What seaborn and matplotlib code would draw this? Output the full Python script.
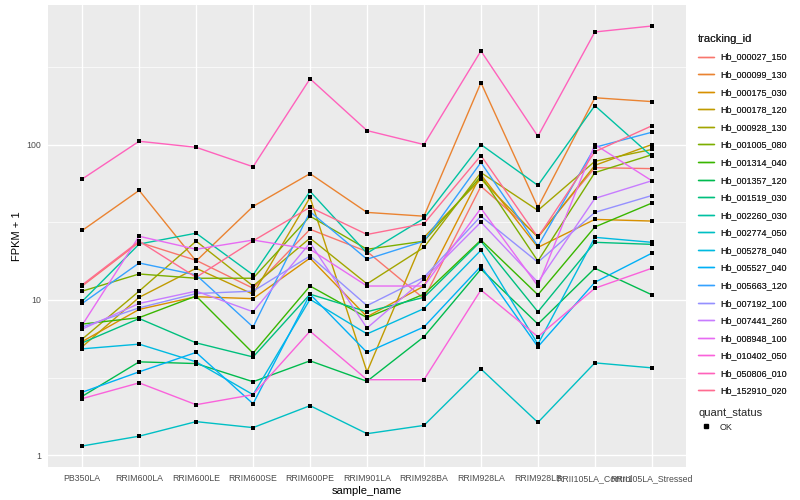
import numpy as np
import pandas as pd
import matplotlib
matplotlib.use("Agg")
import matplotlib.pyplot as plt
from matplotlib.lines import Line2D
from matplotlib.ticker import FixedLocator, NullFormatter
import seaborn as sns

# sample order along the x axis
samples = ["PB350LA", "RRIM600LA", "RRIM600LE", "RRIM600SE", "RRIM600PE",
           "RRIM901LA", "RRIM928BA", "RRIM928LA", "RRIM928LB",
           "RRII105LA_Control", "RRII105LA_Stressed"]

tracking_ids = ["Hb_000027_150", "Hb_000099_130", "Hb_000175_030", "Hb_000178_120",
                "Hb_000928_130", "Hb_001005_080", "Hb_001314_040", "Hb_001357_120",
                "Hb_001519_030", "Hb_002260_030", "Hb_002774_050", "Hb_005278_040",
                "Hb_005527_040", "Hb_005663_120", "Hb_007192_100", "Hb_007441_260",
                "Hb_008948_100", "Hb_010402_050", "Hb_050806_010", "Hb_152910_020"]

# FPKM + 1, one row per tracking_id, one column per sample
fpkm = [
    [12.3, 23.5, 18.0, 11.9, 28.5, 20.5, 10.2, 53.9, 25.7, 71, 70],
    [28, 50.7, 17.8, 40, 65, 36.6, 34.6, 250, 39.5, 200, 189],
    [5.4, 8.7, 10.5, 10.2, 18.6, 7.8, 12.3, 64, 21.8, 33, 32.2],
    [5.0, 10.4, 16.0, 10.9, 45.7, 3.45, 25.3, 60, 25.3, 73.5, 100],
    [5.6, 11.4, 23.9, 12.3, 25, 12.7, 21.8, 66, 37.7, 78, 93],
    [11.4, 14.7, 13.8, 13.8, 34.6, 21.2, 23.9, 62.5, 17.8, 66, 86],
    [7.0, 7.7, 10.6, 4.55, 12.3, 7.7, 10.9, 24.3, 10.8, 29.5, 42],
    [2.4, 4.0, 3.9, 2.98, 4.06, 3.0, 5.8, 15.8, 7.0, 16, 10.8],
    [5.3, 7.6, 5.3, 4.3, 10.9, 8.4, 10.4, 23.9, 8.4, 23.5, 22.8],
    [9.8, 22.9, 26.9, 14.5, 50, 20, 33.5, 100, 54.6, 178, 84],
    [1.15, 1.33, 1.65, 1.51, 2.09, 1.38, 1.56, 3.6, 1.63, 3.94, 3.66],
    [4.85, 5.2, 4.0, 2.46, 10.1, 6.05, 8.8, 20.9, 5.2, 25.3, 23.5],
    [2.55, 3.45, 4.6, 2.15, 10.9, 4.6, 6.7, 16.5, 5.0, 13, 20],
    [9.5, 17.3, 14.5, 6.7, 37, 18.3, 23.9, 76.7, 22.2, 96, 120],
    [6.7, 8.9, 11.0, 11.4, 19.2, 9.2, 14, 34.6, 17.5, 36.6, 47],
    [6.5, 9.5, 11.4, 8.4, 23.3, 6.6, 13.6, 31.7, 13, 45, 58.5],
    [6.9, 25.7, 21.2, 24.3, 21.2, 12.3, 12.3, 38.9, 12.3, 100, 58.5],
    [2.32, 2.93, 2.12, 2.46, 6.3, 3.07, 3.07, 11.6, 5.8, 11.9, 16],
    [60, 105, 96, 72, 265, 123, 100, 400, 113, 530, 579],
    [12.5, 23.9, 14, 24, 39.5, 26.4, 31, 85, 25.3, 90, 132],
]

# ggplot2 default hue palette for 20 levels
colors = ["#F8766D", "#EA8331", "#D89000", "#C09B00", "#A3A500", "#7CAE00",
          "#39B600", "#00BB4E", "#00BF7D", "#00C1A3", "#00BFC4", "#00BAE0",
          "#00B0F6", "#35A2FF", "#9590FF", "#C77CFF", "#E76BF3", "#FA62DB",
          "#FF62BC", "#FF6C91"]

rows = []
for tid, vals in zip(tracking_ids, fpkm):
    for i, v in enumerate(vals):
        rows.append({"tracking_id": tid, "sample_name": samples[i], "pos": i, "value": v})
df = pd.DataFrame(rows)

sns.set_theme(style="darkgrid", rc={
    "axes.facecolor": "#EBEBEB",
    "grid.color": "white",
    "axes.edgecolor": "#EBEBEB",
})
plt.rcParams["font.family"] = ["Liberation Sans", "DejaVu Sans"]

fig = plt.figure(figsize=(8, 5), dpi=100)
ax = fig.add_axes([48 / 800, 33 / 500, 638 / 800, 462 / 500])

sns.lineplot(data=df, x="pos", y="value", hue="tracking_id", palette=colors,
             hue_order=tracking_ids, sort=False, estimator=None, linewidth=1.0,
             legend=False, ax=ax)
sns.scatterplot(data=df, x="pos", y="value", color="black", marker="s", s=7,
                linewidth=0, legend=False, ax=ax, zorder=5)

ax.set_yscale("log")
lo = np.log10(df["value"].min())
hi = np.log10(df["value"].max())
pad = (hi - lo) * 0.05
ax.set_ylim(10 ** (lo - pad), 10 ** (hi + pad))
ax.set_xlim(-0.6, len(samples) - 1 + 0.6)

ax.yaxis.set_major_locator(FixedLocator([1, 10, 100]))
ax.set_yticklabels(["1", "10", "100"])
ax.yaxis.set_minor_locator(FixedLocator([10 ** 0.5, 10 ** 1.5, 10 ** 2.5]))
ax.yaxis.set_minor_formatter(NullFormatter())
ax.set_xticks(range(len(samples)))
ax.set_xticklabels(samples)

ax.grid(which="major", color="white", linewidth=1.0)
ax.grid(which="minor", axis="y", color="white", linewidth=0.5)
ax.tick_params(axis="both", which="major", length=3, width=0.6, color="#333333",
               labelsize=6.3, labelcolor="#4D4D4D", pad=2)
ax.tick_params(axis="y", which="minor", length=0)
ax.set_xlabel("sample_name", fontsize=8, color="black", labelpad=2)
ax.set_ylabel("FPKM + 1", fontsize=8, color="black", labelpad=3)
for s in ax.spines.values():
    s.set_visible(False)

handles = [Line2D([0], [0], color=c, linewidth=1.0) for c in colors]
leg1 = fig.legend(handles, tracking_ids, loc="upper left",
                  bbox_to_anchor=(690 / 800, 1 - 26 / 500), frameon=False,
                  title="tracking_id", fontsize=6.5, title_fontsize=8,
                  handlelength=1.8, handletextpad=0.6, labelspacing=0.95,
                  alignment="left")
fig.add_artist(leg1)
ok = [Line2D([0], [0], color="black", marker="s", markersize=3, linewidth=0)]
fig.legend(ok, ["OK"], loc="upper left", bbox_to_anchor=(690 / 800, 1 - 400 / 500),
           frameon=False, title="quant_status", fontsize=6.5, title_fontsize=8,
           handlelength=1.8, handletextpad=0.6, alignment="left")

fig.savefig("out.png", dpi=100)
